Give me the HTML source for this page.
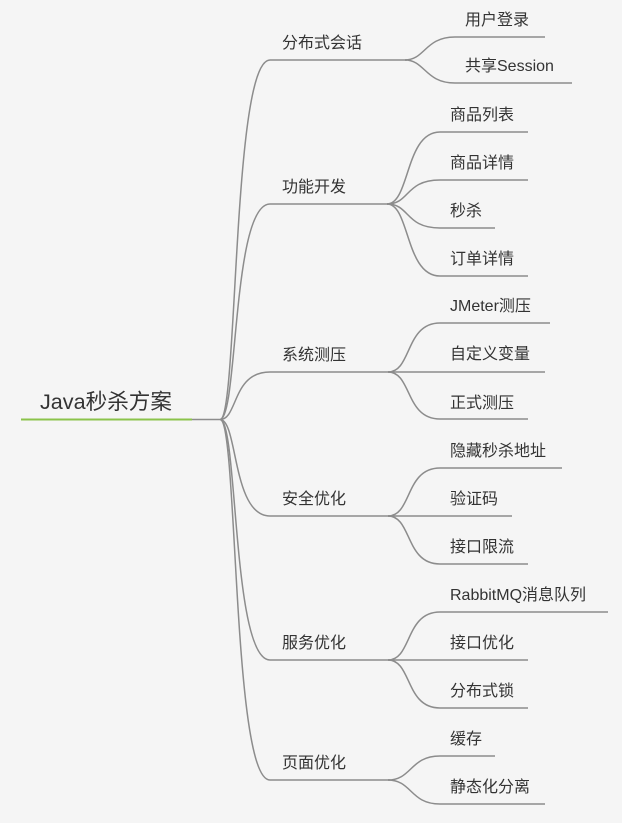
<!DOCTYPE html>
<html><head><meta charset="utf-8"><style>
html,body{margin:0;padding:0;background:#f5f5f5;}
svg{display:block;}
text{font-family:"Liberation Sans","Noto Sans CJK SC",sans-serif;fill:#333;}
</style></head><body>
<svg width="622" height="823" viewBox="0 0 622 823" xmlns="http://www.w3.org/2000/svg">
<g fill="none" stroke="#8c8c8c" stroke-width="1.5">
<line x1="190" y1="419.5" x2="222" y2="419.5"/>
<path d="M220,419.5 C238,419.5 232,60 270,60 H407"/>
<path d="M220,419.5 C238,419.5 232,204 270,204 H388"/>
<path d="M220,419.5 C238,419.5 232,372 270,372 H390"/>
<path d="M220,419.5 C238,419.5 232,516 270,516 H390"/>
<path d="M220,419.5 C238,419.5 232,660 270,660 H390"/>
<path d="M220,419.5 C238,419.5 232,780 270,780 H390"/>
<path d="M405,60 C425,60 425,37 455,37 H545"/>
<path d="M405,60 C425,60 425,83 455,83 H572"/>
<path d="M387,204 C410,204 405,132 440,132 H528"/>
<path d="M387,204 C410,204 405,180 440,180 H528"/>
<path d="M387,204 C410,204 405,228 440,228 H495"/>
<path d="M387,204 C410,204 405,276 440,276 H528"/>
<path d="M388,372 C412,372 405,323 440,323 H550"/>
<path d="M388,372 H545"/>
<path d="M388,372 C412,372 405,419 440,419 H528"/>
<path d="M388,516 C412,516 405,468 440,468 H562"/>
<path d="M388,516 H512"/>
<path d="M388,516 C412,516 405,564 440,564 H528"/>
<path d="M388,660 C412,660 405,612 440,612 H608"/>
<path d="M388,660 H528"/>
<path d="M388,660 C412,660 405,708 440,708 H528"/>
<path d="M388,780 C412,780 410,756 440,756 H495"/>
<path d="M388,780 C412,780 410,804 440,804 H545"/>
</g>
<line x1="21" y1="419.5" x2="192" y2="419.5" stroke="#8bc34a" stroke-width="2"/>
<text x="40" y="409" font-size="21.6">Java秒杀方案</text>
<g font-size="16">
<text x="282" y="48">分布式会话</text>
<text x="282" y="192">功能开发</text>
<text x="282" y="360">系统测压</text>
<text x="282" y="504">安全优化</text>
<text x="282" y="648">服务优化</text>
<text x="282" y="768">页面优化</text>
<text x="465" y="25">用户登录</text>
<text x="465" y="71">共享Session</text>
<text x="450" y="120">商品列表</text>
<text x="450" y="168">商品详情</text>
<text x="450" y="216">秒杀</text>
<text x="450" y="264">订单详情</text>
<text x="450" y="311">JMeter测压</text>
<text x="450" y="359">自定义变量</text>
<text x="450" y="408">正式测压</text>
<text x="450" y="456">隐藏秒杀地址</text>
<text x="450" y="504">验证码</text>
<text x="450" y="552">接口限流</text>
<text x="450" y="600">RabbitMQ消息队列</text>
<text x="450" y="648">接口优化</text>
<text x="450" y="696">分布式锁</text>
<text x="450" y="744">缓存</text>
<text x="450" y="792">静态化分离</text>
</g>
</svg>
</body></html>
